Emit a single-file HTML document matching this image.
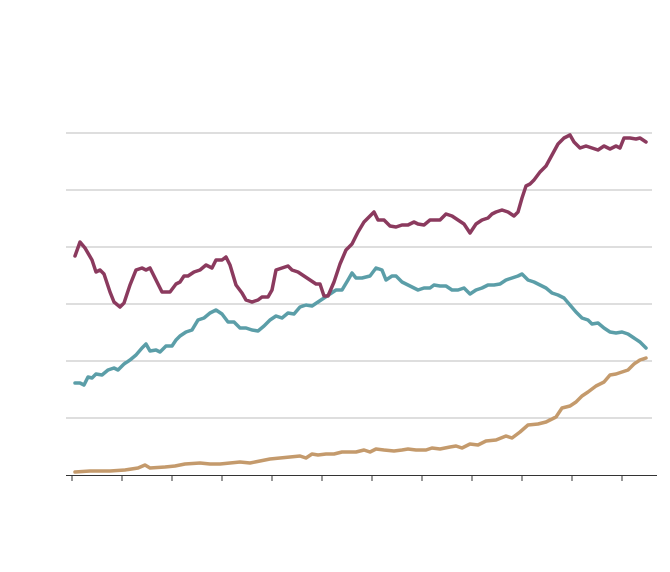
<!DOCTYPE html>
<html><head><meta charset="utf-8"><style>
html,body{margin:0;padding:0;background:#fff;}
svg{display:block;}
</style></head><body>
<svg width="670" height="572" viewBox="0 0 670 572" xmlns="http://www.w3.org/2000/svg">
<g stroke="#bdbdbd" stroke-width="1">
<line x1="66" y1="133" x2="652" y2="133"/>
<line x1="66" y1="190" x2="652" y2="190"/>
<line x1="66" y1="247" x2="652" y2="247"/>
<line x1="66" y1="304" x2="652" y2="304"/>
<line x1="66" y1="361" x2="652" y2="361"/>
<line x1="66" y1="418" x2="652" y2="418"/>
</g>
<g stroke="#333" stroke-width="1">
<line x1="66" y1="475.5" x2="657" y2="475.5"/>
<line x1="72" y1="475" x2="72" y2="481"/><line x1="122" y1="475" x2="122" y2="481"/>
<line x1="172" y1="475" x2="172" y2="481"/><line x1="222" y1="475" x2="222" y2="481"/>
<line x1="272" y1="475" x2="272" y2="481"/><line x1="322" y1="475" x2="322" y2="481"/>
<line x1="372" y1="475" x2="372" y2="481"/><line x1="422" y1="475" x2="422" y2="481"/>
<line x1="472" y1="475" x2="472" y2="481"/><line x1="522" y1="475" x2="522" y2="481"/>
<line x1="572" y1="475" x2="572" y2="481"/><line x1="622" y1="475" x2="622" y2="481"/>
</g>
<g fill="none" stroke-width="3.5" stroke-linejoin="round" stroke-linecap="round">
<polyline stroke="#c49a6c" points="75,472 90,471 110,471 125,470 138,468 145,465 150,468 165,467 175,466 185,464 200,463 210,464 220,464 230,463 240,462 250,463 260,461 270,459 280,458 290,457 300,456 306,458 312,454 318,455 326,454 334,454 342,452 350,452 356,452 364,450 370,452 376,449 384,450 394,451 402,450 408,449 416,450 426,450 432,448 440,449 450,447 456,446 462,448 470,444 478,445 486,441 496,440 506,436 512,438 520,432 528,425 538,424 546,422 556,417 562,408 570,406 576,402 582,396 588,392 596,386 604,382 610,375 616,374 622,372 628,370 634,364 640,360 646,358"/>
<polyline stroke="#5b9ea8" points="75,383 80,383 84,385 88,377 92,378 96,374 102,375 108,370 114,368 118,370 124,364 130,360 136,355 142,348 146,344 150,351 156,350 160,352 166,346 172,346 176,340 180,336 186,332 192,330 198,320 204,318 210,313 216,310 222,314 228,322 234,322 240,328 246,328 252,330 258,331 264,326 270,320 276,316 282,318 288,313 294,314 300,307 306,305 312,306 318,302 324,298 330,294 336,290 342,290 348,280 352,273 356,278 362,278 370,276 376,268 382,270 386,280 392,276 396,276 402,282 408,285 412,287 418,290 424,288 430,288 434,285 440,286 446,286 452,290 458,290 464,288 470,294 476,290 482,288 488,285 494,285 500,284 506,280 512,278 518,276 522,274 528,280 534,282 540,285 546,288 552,293 558,295 564,298 570,305 576,312 582,318 588,320 592,324 598,323 604,328 610,332 616,333 622,332 628,334 634,338 640,342 646,348"/>
<polyline stroke="#8b3a5e" points="75,256 80,242 85,248 92,260 96,272 100,270 104,274 110,292 114,302 120,307 124,303 130,285 136,270 142,268 146,270 150,268 156,280 162,292 170,292 176,284 180,282 184,276 188,276 194,272 200,270 206,265 212,268 216,260 222,260 226,257 230,265 236,285 242,293 246,300 252,302 258,300 262,297 268,297 272,290 276,270 282,268 288,266 292,270 298,272 304,276 310,280 316,284 320,284 324,296 328,296 334,282 340,264 346,250 352,244 358,232 364,222 370,216 374,212 378,220 384,220 390,226 396,227 402,225 408,225 414,222 418,224 424,225 430,220 436,220 440,220 446,214 452,216 458,220 464,224 470,233 476,224 482,220 488,218 492,214 496,212 502,210 508,212 514,216 518,212 522,198 526,186 530,184 534,180 540,172 546,166 552,155 558,144 564,138 570,135 574,142 580,148 586,146 592,148 598,150 604,146 610,149 616,146 620,148 624,138 630,138 636,139 640,138 646,142"/>
</g>
</svg>
</body></html>
